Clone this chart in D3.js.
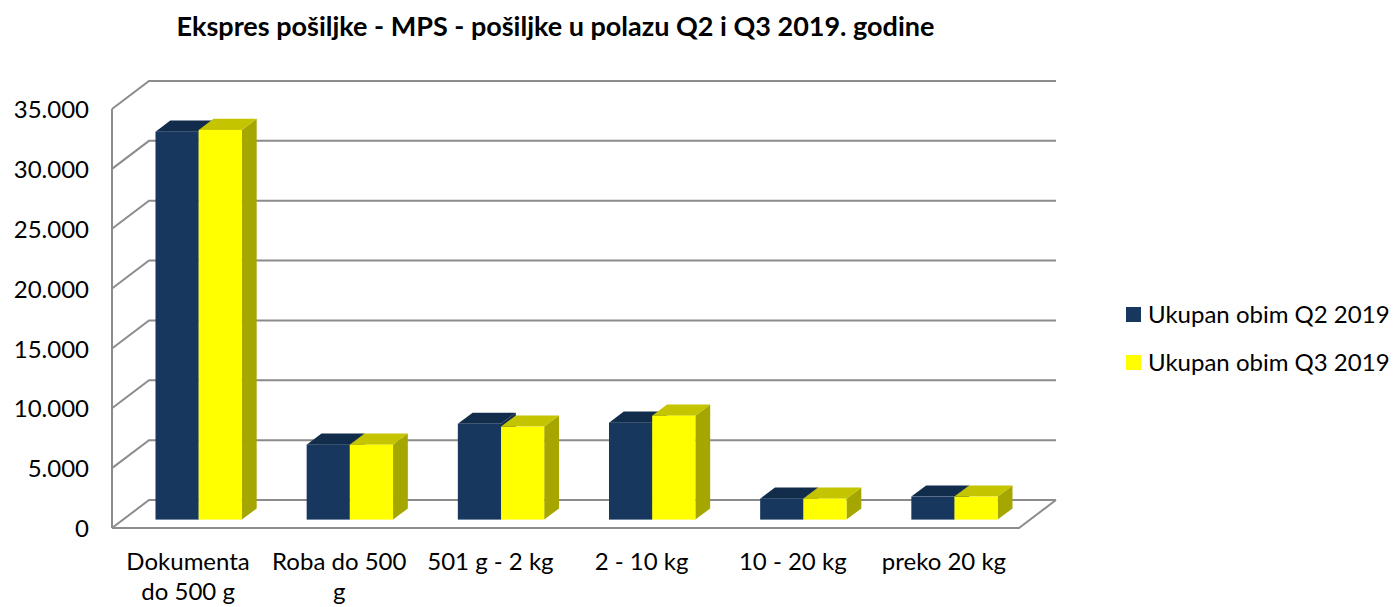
<!DOCTYPE html>
<html>
<head>
<meta charset="utf-8">
<script src="https://cdn.jsdelivr.net/npm/d3@7"></script>
<style>
    html, body { margin: 0; padding: 0; background: #fff; }
    text { font-family: Lato, sans-serif; fill: #000; }
</style>
</head>
<body>
<div id="chart"></div>
<script>
const titleText = "Ekspres pošiljke - MPS - pošiljke u polazu Q2 i Q3 2019. godine";
const categories = ["Dokumenta do 500 g", "Roba do 500 g", "501 g - 2 kg", "2 - 10 kg", "10 - 20 kg", "preko 20 kg"];
const categoryLines = [["Dokumenta", "do 500 g"], ["Roba do 500", "g"], ["501 g - 2 kg"], ["2 - 10 kg"], ["10 - 20 kg"], ["preko 20 kg"]];
const seriesNames = ["Ukupan obim Q2 2019", "Ukupan obim Q3 2019"];
const q2Values = [32400, 6260, 8000, 8100, 1750, 1920];
const q3Values = [32550, 6260, 7770, 8680, 1750, 1920];
const yTicks = [0, 5000, 10000, 15000, 20000, 25000, 30000, 35000];

const width = 1395, height = 607;
const plot = {left: 112, right: 1019, top: 109, bottom: 528};
const depth = {x: 37, y: -28};
const gridColor = "#8c8c8c";

const faces = [
    {front: "#17375e", top: "#122c4b", side: "#122c4b"},
    {front: "#ffff00", top: "#c4c400", side: "#a6a600"}
];

const svg = d3.select("#chart").append("svg")
    .attr("width", width)
    .attr("height", height)
    .style("display", "block");

const x = d3.scaleBand().domain(categories).range([plot.left, plot.right]);
const y = d3.scaleLinear().domain([0, 35000]).range([plot.bottom, plot.top]);
const fmt = d3.formatLocale({decimal: ",", thousands: ".", grouping: [3], currency: ["", ""]}).format(",d");

svg.append("text")
    .attr("x", 555.5)
    .attr("y", 36)
    .attr("text-anchor", "middle")
    .style("font-size", "27px")
    .style("font-weight", "700")
    .text(titleText);

// walls and floor
let grid = svg.append("g").attr("fill", "none").attr("stroke", gridColor).attr("stroke-width", 2);
yTicks.forEach(t => {
    let p = d3.path();
    p.moveTo(plot.left, y(t));
    p.lineTo(plot.left + depth.x, y(t) + depth.y);
    p.lineTo(plot.right + depth.x, y(t) + depth.y);
    grid.append("path").attr("d", p.toString());
});
let floor = d3.path();
floor.moveTo(plot.left, y(0));
floor.lineTo(plot.right, y(0));
floor.lineTo(plot.right + depth.x, y(0) + depth.y);
grid.append("path").attr("d", floor.toString());
grid.append("line")
    .attr("x1", plot.left).attr("x2", plot.left)
    .attr("y1", y(35000)).attr("y2", y(0));

// axes, only the labels are kept
let yAxis = svg.append("g")
    .attr("transform", "translate(" + (plot.left - 23) + ",1)")
    .call(d3.axisLeft(y).tickValues(yTicks).tickSize(0).tickPadding(0).tickFormat(fmt));
yAxis.select(".domain").remove();
yAxis.selectAll("text")
    .style("font-size", "24px")
    .style("font-family", "Lato, sans-serif");

let xAxis = svg.append("g")
    .attr("transform", "translate(0," + (plot.bottom + 42) + ")")
    .call(d3.axisBottom(x).tickSize(0).tickPadding(0));
xAxis.select(".domain").remove();
xAxis.selectAll("text").each(function(d, i) {
    let label = d3.select(this).text(null).attr("y", 0).attr("dy", null)
        .style("font-size", "24px")
        .style("font-family", "Lato, sans-serif");
    categoryLines[i].forEach((line, j) => {
        label.append("tspan").attr("x", 0.5).attr("y", j * 30).text(line);
    });
});

// 3D bars, each one has front, top and side faces
const barStart = 0.3, barEnd = 0.7;
const barOffset = depth.x * barStart;
const barLift = depth.y * barStart;
const barDepthX = depth.x * (barEnd - barStart);
const barDepthY = depth.y * (barEnd - barStart);
const barWidth = x.bandwidth() * 0.2857;

function poly(pts) {
    return pts.map(p => p.join(",")).join(" ");
}

[q2Values, q3Values].forEach((values, s) => {
    let group = svg.append("g").attr("class", "series-" + s);
    categories.forEach((cat, i) => {
        let x0 = x(cat) + x.bandwidth() / 2 - barWidth + s * barWidth + barOffset;
        let x1 = x0 + barWidth;
        let y0 = y(0) + barLift;
        let y1 = y(values[i]) + barLift;
        group.append("polygon")
            .attr("points", poly([[x1, y0], [x1 + barDepthX, y0 + barDepthY], [x1 + barDepthX, y1 + barDepthY], [x1, y1]]))
            .attr("fill", faces[s].side);
        group.append("polygon")
            .attr("points", poly([[x0, y1], [x1, y1], [x1 + barDepthX, y1 + barDepthY], [x0 + barDepthX, y1 + barDepthY]]))
            .attr("fill", faces[s].top);
        group.append("rect")
            .attr("x", x0).attr("y", y1)
            .attr("width", barWidth).attr("height", y0 - y1)
            .attr("fill", faces[s].front);
    });
});

// legend
let legend = svg.append("g");
seriesNames.forEach((name, i) => {
    let row = legend.append("g").attr("transform", "translate(1126," + (307 + i * 48) + ")");
    row.append("rect").attr("width", 15).attr("height", 15).attr("fill", faces[i].front);
    row.append("text")
        .attr("x", 22)
        .attr("y", 16)
        .style("font-size", "24px")
        .text(name);
});
</script>
</body>
</html>
